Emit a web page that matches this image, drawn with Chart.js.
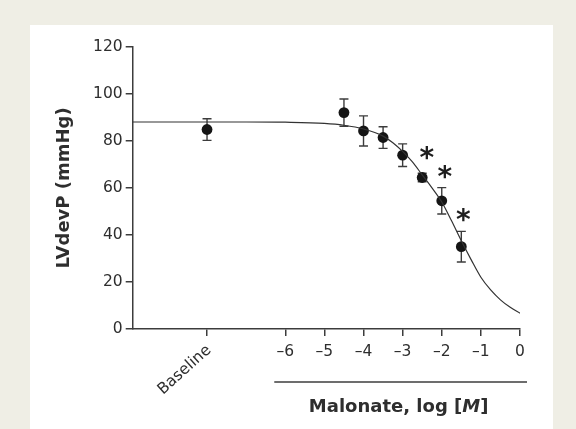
<!DOCTYPE html>
<html>
<head>
<meta charset="utf-8">
<script src="https://cdn.jsdelivr.net/npm/chart.js@4.4.1/dist/chart.umd.min.js"></script>
<style>
  html, body { margin: 0; padding: 0; background: #efeee5; }
  #wrap { position: relative; width: 576px; height: 429px; }
</style>
</head>
<body>
<div id="wrap"><canvas id="chart" width="576" height="429"></canvas></div>
<script>
// Measured points: log [malonate]; baseline is parked at -8 on the axis
const doseX = [-8, -4.5, -4, -3.5, -3, -2.5, -2, -1.5];
const pressure = [84.8, 92, 84.2, 81.4, 73.9, 64.4, 54.5, 35];
const sem = [4.6, 5.8, 6.4, 4.6, 4.8, 1.8, 5.6, 6.5];

// Fitted dose-response curve
const fitX = [-9.9, -8, -7, -6, -5, -4.5, -4, -3.5, -3.25, -3, -2.75, -2.5, -2.25, -2, -1.75, -1.5, -1.25, -1, -0.75, -0.5, -0.25, 0];
const fitY = [88.0, 88.0, 88.0, 87.9, 87.4, 86.6, 85.0, 82.0, 79.2, 75.5, 71.0, 65.5, 60.0, 54.0, 46.0, 37.5, 29.5, 22.0, 16.6, 12.4, 9.2, 6.7];

// Significance marks
const starX = [-2.38, -1.92, -1.45];
const starY = [75, 66.6, 48.5];

const xTicks = [-8, -6, -5, -4, -3, -2, -1, 0];
const xTickLabels = ['Baseline', '–6', '–5', '–4', '–3', '–2', '–1', '0'];
const yTicks = [0, 20, 40, 60, 80, 100, 120];

const FONT = 'DejaVu Sans';
const INK = '#2e2e2e';
const AXIS = '#3c3c3c';

const panel = {
  id: 'panel',
  beforeDraw(chart) {
    const ctx = chart.ctx;
    ctx.save();
    ctx.fillStyle = '#efeee5';
    ctx.fillRect(0, 0, chart.width, chart.height);
    ctx.fillStyle = '#ffffff';
    ctx.fillRect(30, 25, 523, chart.height - 25);
    ctx.restore();
  }
};

const extras = {
  id: 'extras',
  beforeDatasetsDraw(chart) {
    // error bars (SEM)
    const {ctx, scales: {x, y}} = chart;
    ctx.save();
    ctx.strokeStyle = AXIS;
    ctx.lineWidth = 1.4;
    doseX.forEach((d, i) => {
      const px = x.getPixelForValue(d);
      const top = y.getPixelForValue(pressure[i] + sem[i]);
      const bot = y.getPixelForValue(pressure[i] - sem[i]);
      ctx.beginPath();
      ctx.moveTo(px, top); ctx.lineTo(px, bot);
      ctx.moveTo(px - 4.5, top); ctx.lineTo(px + 4.5, top);
      ctx.moveTo(px - 4.5, bot); ctx.lineTo(px + 4.5, bot);
      ctx.stroke();
    });
    ctx.restore();
  },
  afterDraw(chart) {
    const {ctx, scales: {x, y}} = chart;
    ctx.save();
    ctx.fillStyle = '#1e1e1e';

    // asterisks
    ctx.font = 'bold 28px "' + FONT + '"';
    ctx.textAlign = 'center';
    ctx.textBaseline = 'alphabetic';
    const m = ctx.measureText('*');
    const mid = (m.actualBoundingBoxAscent - m.actualBoundingBoxDescent) / 2;
    starX.forEach((sx, i) => {
      ctx.fillText('*', x.getPixelForValue(sx), y.getPixelForValue(starY[i]) + mid);
    });

    // rotated baseline label
    ctx.fillStyle = INK;
    ctx.font = '15.5px "' + FONT + '"';
    ctx.save();
    ctx.translate(x.getPixelForValue(xTicks[0]) + 2, y.bottom + 19);
    ctx.rotate(-42 * Math.PI / 180);
    ctx.textAlign = 'right';
    ctx.textBaseline = 'middle';
    ctx.fillText(xTickLabels[0], 0, 0);
    ctx.restore();

    // rule under the concentration ticks and its title
    const x0 = x.getPixelForValue(-6) - 11;
    const x1 = x.right + 7;
    const ruleY = y.bottom + 53;
    ctx.strokeStyle = AXIS;
    ctx.lineWidth = 1.5;
    ctx.beginPath();
    ctx.moveTo(x0, ruleY); ctx.lineTo(x1, ruleY);
    ctx.stroke();

    const parts = [
      ['Malonate, log [', 'bold'],
      ['M', 'italic bold'],
      [']', 'bold']
    ];
    let total = 0;
    parts.forEach(p => {
      ctx.font = p[1] + ' 18px "' + FONT + '"';
      p.push(ctx.measureText(p[0]).width);
      total += p[2];
    });
    let cx = (x0 + x1) / 2 - 2 - total / 2;
    ctx.textAlign = 'left';
    ctx.textBaseline = 'alphabetic';
    ctx.fillStyle = INK;
    parts.forEach(p => {
      ctx.font = p[1] + ' 18px "' + FONT + '"';
      ctx.fillText(p[0], cx, ruleY + 29.5);
      cx += p[2];
    });
    ctx.restore();
  }
};

new Chart(document.getElementById('chart'), {
  type: 'scatter',
  data: {
    datasets: [
      {
        type: 'line',
        data: fitX.map((v, i) => ({x: v, y: fitY[i]})),
        borderColor: '#333',
        borderWidth: 1.2,
        pointRadius: 0,
        cubicInterpolationMode: 'monotone',
        fill: false
      },
      {
        data: doseX.map((v, i) => ({x: v, y: pressure[i]})),
        backgroundColor: '#151515',
        borderColor: '#151515',
        pointRadius: 5.4,
        borderWidth: 0
      }
    ]
  },
  options: {
    responsive: false,
    animation: false,
    layout: { padding: { top: 46.7, right: 56, bottom: 0, left: 0 } },
    plugins: { legend: { display: false }, tooltip: { enabled: false } },
    scales: {
      x: {
        type: 'linear',
        min: -9.9,
        max: 0,
        afterBuildTicks: axis => { axis.ticks = xTicks.map(v => ({value: v})); },
        afterFit: axis => { axis.height = 100; },
        ticks: {
          autoSkip: false,
          maxRotation: 0,
          padding: 7,
          color: INK,
          font: { family: FONT, size: 15.5 },
          callback: (value, i) => i === 0 ? '' : xTickLabels[i]
        },
        grid: { drawOnChartArea: false, drawTicks: true, tickLength: 7, color: AXIS, lineWidth: 1.5 },
        border: { display: true, color: AXIS, width: 1.5 }
      },
      y: {
        min: 0,
        max: 120,
        afterBuildTicks: axis => { axis.ticks = yTicks.map(v => ({value: v})); },
        afterFit: axis => { axis.width = 132.7; },
        ticks: {
          padding: 3,
          color: INK,
          font: { family: FONT, size: 15.5 }
        },
        grid: { drawOnChartArea: false, drawTicks: true, tickLength: 7, color: AXIS, lineWidth: 1.5 },
        border: { display: true, color: AXIS, width: 1.5 },
        title: {
          display: true,
          text: 'LVdevP (mmHg)',
          color: INK,
          font: { family: FONT, size: 18, weight: 'bold' },
          padding: { top: 53.5, bottom: 0 }
        }
      }
    }
  },
  plugins: [panel, extras]
});
</script>
</body>
</html>
